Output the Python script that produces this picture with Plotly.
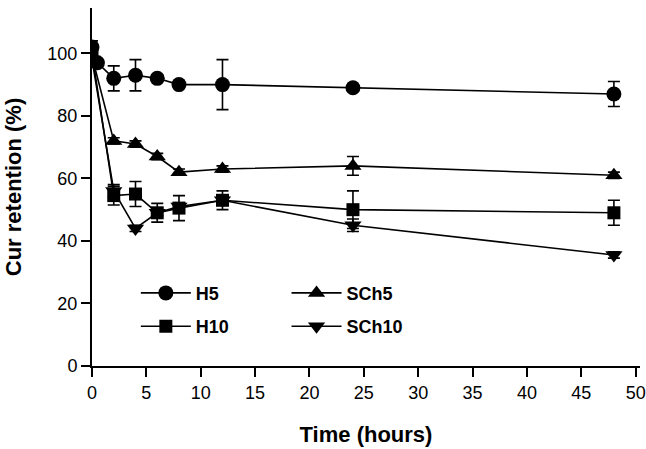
import plotly.graph_objects as go

# Data
t_h5 = [0, 0.5, 2, 4, 6, 8, 12, 24, 48]
h5 = [102, 97, 92, 93, 92, 90, 90, 89, 87]
h5_err = [2, 1, 4, 5, 1, 0, 8, 0, 4]

t = [0, 2, 4, 6, 8, 12, 24, 48]
sch5 = [99, 72, 71, 67, 62, 63, 64, 61]
sch5_err = [1, 1, 1, 1, 1, 1, 3, 1]
h10 = [100, 54.5, 55, 49, 50.5, 53, 50, 49]
h10_err = [1, 3, 4, 3, 4, 3, 6, 4]
sch10 = [98, 56, 44, 49, 51, 53, 45, 35.5]
sch10_err = [1, 2, 1, 1, 1, 1, 2, 1]

x_ticks = list(range(0, 51, 5))
y_ticks = list(range(0, 101, 20))

FONT = "Liberation Sans, Arial, sans-serif"

def series(x, y, err, name, symbol, size, legend):
    return go.Scatter(
        x=x, y=y, name=name, mode="lines+markers",
        line=dict(color="black", width=1.6),
        marker=dict(symbol=symbol, size=size, color="black"),
        error_y=dict(type="data", array=err, visible=True, color="black",
                     thickness=1.6, width=6),
        legend=legend, legendgroup=name,
    )

fig = go.Figure()
fig.add_trace(series(t_h5, h5, h5_err, "H5", "circle", 15, "legend"))
fig.add_trace(series(t, h10, h10_err, "H10", "square", 13, "legend"))
fig.add_trace(series(t, sch5, sch5_err, "SCh5", "triangle-up", 15, "legend2"))
fig.add_trace(series(t, sch10, sch10_err, "SCh10", "triangle-down", 15, "legend2"))

legend_common = dict(
    font=dict(family=FONT, size=18, color="black", weight="bold"),
    bgcolor="rgba(0,0,0,0)", borderwidth=0, orientation="v",
    xanchor="left", yanchor="top", itemwidth=50, tracegroupgap=7,
)

fig.update_layout(
    width=646, height=449,
    margin=dict(l=92, r=6, t=8, b=83, autoexpand=False),
    paper_bgcolor="white", plot_bgcolor="white",
    font=dict(family=FONT, color="black"),
    showlegend=True,
    legend=dict(x=0.08, y=0.255, **legend_common),
    legend2=dict(x=0.355, y=0.255, **legend_common),
    xaxis=dict(
        range=[0, 50.4], tickvals=x_ticks, ticktext=[str(v) for v in x_ticks],
        showgrid=False, zeroline=False, showline=True, linecolor="black",
        linewidth=2, ticks="outside", ticklen=9, tickwidth=2, tickcolor="black",
        tickfont=dict(family=FONT, size=18, color="black"),
        title=dict(text="Time (hours)", standoff=25,
                   font=dict(family=FONT, size=22, color="black", weight="bold")),
    ),
    yaxis=dict(
        range=[0, 114.5], tickvals=y_ticks, ticktext=[str(v) for v in y_ticks],
        showgrid=False, zeroline=False, showline=True, linecolor="black",
        linewidth=2, ticks="outside", ticklen=9, tickwidth=2, tickcolor="black",
        tickfont=dict(family=FONT, size=18, color="black"),
        title=dict(text="Cur retention (%)", standoff=20,
                   font=dict(family=FONT, size=22, color="black", weight="bold")),
    ),
)

fig.write_html(
    "out.html",
    config={"displayModeBar": False},
    post_script="document.body.style.margin='0';document.body.style.overflow='hidden';",
)
